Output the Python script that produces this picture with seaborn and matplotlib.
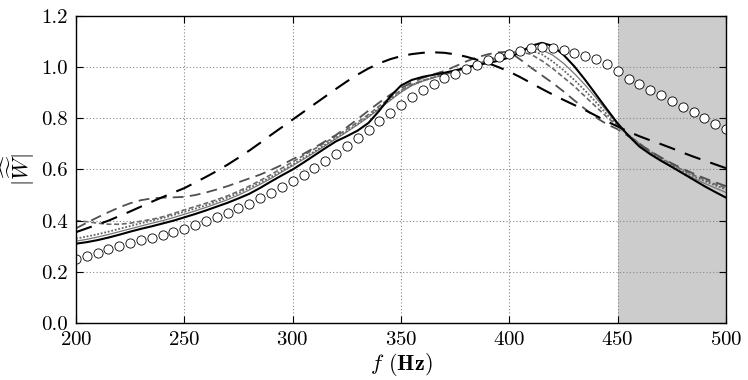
import numpy as np
import pandas as pd
import matplotlib
matplotlib.use("Agg")
import matplotlib.pyplot as plt
import seaborn as sns

freq = [200, 205, 210, 215, 220, 225, 230, 235, 240, 245, 250, 255, 260, 265, 270,
        275, 280, 285, 290, 295, 300, 305, 310, 315, 320, 325, 330, 335, 340, 345,
        350, 355, 360, 365, 370, 375, 380, 385, 390, 395, 400, 405, 410, 415, 420,
        425, 430, 435, 440, 445, 450, 455, 460, 465, 470, 475, 480, 485, 490, 495, 500]

solid_black = [.310, .316, .324, .334, .345, .357, .368, .378, .389, .400, .413, .426, .440, .455, .470,
               .487, .505, .528, .553, .577, .600, .627, .655, .683, .710, .730, .752, .782, .830, .885,
               .928, .950, .962, .970, .978, .987, .998, 1.008, 1.016, 1.025, 1.038, 1.058, 1.083, 1.095, 1.083,
               1.048, 1.003, .950, .893, .836, .780, .732, .690, .660, .634, .610, .585, .560, .535, .512, .490]

long_dash = [.355, .370, .385, .400, .418, .436, .455, .474, .492, .510, .527, .549, .571, .594, .619,
             .646, .674, .704, .735, .765, .795, .825, .855, .885, .915, .944, .971, .995, 1.015, 1.031,
             1.043, 1.051, 1.056, 1.058, 1.056, 1.050, 1.041, 1.029, 1.016, 1.000, .982, .961, .938, .915, .893,
             .872, .852, .832, .810, .788, .768, .748, .730, .714, .699, .683, .666, .650, .635, .620, .605]

circles = [.250, .262, .275, .288, .300, .312, .323, .333, .344, .356, .369, .383, .397, .413, .430,
           .448, .467, .487, .509, .532, .556, .580, .605, .632, .661, .692, .724, .756, .789, .821,
           .853, .882, .910, .935, .957, .975, .992, 1.009, 1.026, 1.041, 1.053, 1.064, 1.073, 1.078, 1.076,
           1.067, 1.056, 1.045, 1.033, 1.012, .983, .953, .934, .912, .891, .867, .845, .823, .800, .778, .757]

gray_dash = [.370, .392, .413, .433, .452, .468, .480, .487, .490, .491, .493, .500, .510, .522, .535,
             .550, .565, .580, .598, .618, .640, .661, .685, .710, .735, .765, .797, .830, .862, .892,
             .918, .940, .958, .972, .985, 1.003, 1.022, 1.038, 1.050, 1.058, 1.060, 1.030, .998, .968, .938,
             .905, .870, .836, .803, .777, .757, .730, .700, .672, .647, .624, .603, .584, .566, .550, .535]

gray_short = [.400, .396, .390, .386, .386, .390, .398, .405, .415, .428, .442, .455, .468, .482, .497,
              .515, .535, .557, .580, .605, .630, .655, .680, .705, .730, .757, .785, .815, .848, .880,
              .910, .932, .948, .960, .972, .985, .998, 1.012, 1.027, 1.042, 1.055, 1.060, 1.050, 1.025, .995,
              .960, .925, .885, .845, .805, .770, .735, .702, .672, .645, .620, .598, .578, .560, .543, .528]

gray_dotted = [.330, .338, .347, .357, .368, .379, .390, .400, .410, .422, .435, .447, .460, .475, .490,
               .508, .528, .549, .571, .595, .620, .645, .670, .697, .723, .750, .778, .808, .840, .873,
               .905, .930, .947, .960, .972, .984, .997, 1.010, 1.025, 1.040, 1.053, 1.063, 1.065, 1.050, 1.022,
               .988, .950, .908, .863, .816, .772, .734, .700, .669, .641, .616, .594, .573, .555, .538, .522]

gray_thin = [.320, .327, .336, .346, .357, .368, .379, .390, .400, .412, .425, .438, .452, .467, .482,
             .500, .520, .542, .565, .590, .615, .640, .666, .693, .720, .747, .775, .805, .837, .870,
             .902, .928, .945, .958, .970, .982, .995, 1.008, 1.022, 1.037, 1.052, 1.065, 1.072, 1.068, 1.047,
             1.015, .975, .930, .880, .828, .776, .734, .698, .665, .636, .610, .587, .566, .546, .528, .510]

xticks = [200, 250, 300, 350, 400, 450, 500]
yticks = [0.0, 0.2, 0.4, 0.6, 0.8, 1.0, 1.2]

plt.rcParams.update({
    "font.family": "serif",
    "font.serif": ["cmr10"],
    "mathtext.fontset": "cm",
    "axes.formatter.use_mathtext": True,
    "axes.unicode_minus": False,
})

fig = plt.figure(figsize=(7.48, 3.8), dpi=100)
ax = fig.add_axes([0.1016, 0.15, 0.869, 0.808])

ax.axvspan(450, 500, color="#cccccc", zorder=0, lw=0)

sns.lineplot(x=freq, y=gray_thin, ax=ax, color="#777777", lw=0.9, zorder=2)
sns.lineplot(x=freq, y=gray_dotted, ax=ax, color="#666666", lw=1.3, linestyle=(0, (1, 1)), zorder=2)
sns.lineplot(x=freq, y=gray_short, ax=ax, color="#6a6a6a", lw=1.2, linestyle=(0, (3, 1.6)), zorder=2)
sns.lineplot(x=freq, y=gray_dash, ax=ax, color="#505050", lw=1.3, linestyle=(0, (6, 3.5)), zorder=2)
sns.lineplot(x=freq, y=long_dash, ax=ax, color="black", lw=1.5, linestyle=(0, (8, 5)), zorder=3)
sns.lineplot(x=freq, y=solid_black, ax=ax, color="black", lw=1.5, zorder=3)
sns.scatterplot(x=freq, y=circles, ax=ax, s=44, facecolor="white", edgecolor="black",
                linewidth=0.6, zorder=4)

ax.set_xlim(200, 500)
ax.set_ylim(0, 1.2)
ax.set_xticks(xticks)
ax.set_yticks(yticks)
ax.set_yticklabels([f"{v:.1f}" for v in yticks])
ax.grid(True, linestyle=(0, (1, 2)), color="#888888", lw=0.8, zorder=1)
ax.set_axisbelow(False)
for gl in ax.get_xgridlines() + ax.get_ygridlines():
    gl.set_zorder(1)

ax.tick_params(direction="in", top=True, right=True, length=5, width=0.8,
               labelsize=15, pad=6)
for s in ax.spines.values():
    s.set_linewidth(1.0)
    s.set_color("black")
    s.set_zorder(5)

ax.set_xlabel(r"$f$ $\mathbf{(Hz)}$", fontsize=16, labelpad=1)
ax.set_ylabel(r"$|\widehat{\widetilde{W}}|$", fontsize=16, labelpad=3)

fig.savefig("out.png", dpi=100)
